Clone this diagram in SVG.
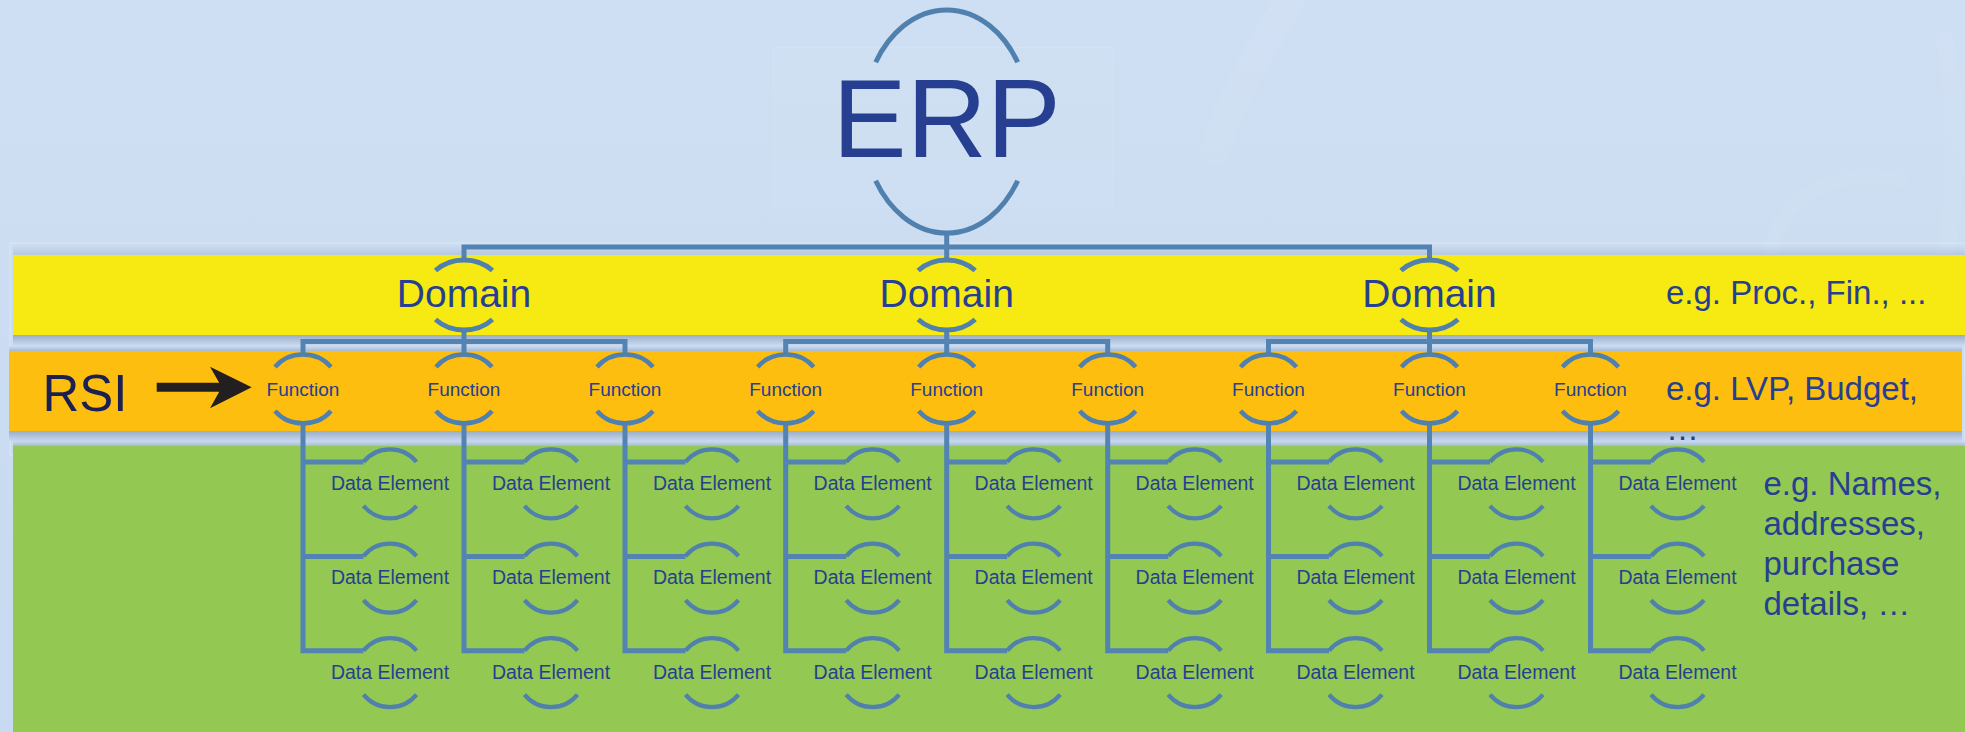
<svg xmlns="http://www.w3.org/2000/svg" width="1965" height="732" viewBox="0 0 1965 732">
<defs>
<linearGradient id="bg" x1="0" y1="0" x2="0" y2="1">
<stop offset="0" stop-color="#cfdff3"/>
<stop offset="1" stop-color="#c7daf1"/>
</linearGradient>
<linearGradient id="shDown" x1="0" y1="0" x2="0" y2="1">
<stop offset="0" stop-color="#8a9db6" stop-opacity="0.75"/>
<stop offset="1" stop-color="#8a9db6" stop-opacity="0"/>
</linearGradient>
<linearGradient id="shUp" x1="0" y1="1" x2="0" y2="0">
<stop offset="0" stop-color="#8a9db6" stop-opacity="0.55"/>
<stop offset="1" stop-color="#8a9db6" stop-opacity="0"/>
</linearGradient>
<style>
text{font-family:"Liberation Sans",Arial,Helvetica,sans-serif;fill:#263f90;text-anchor:middle}
.arc{fill:none;stroke:#4f80ae}
.erp .arc{stroke-width:5}
.dom .arc{stroke-width:5}
.fun .arc{stroke-width:4.5}
.de .arc{stroke-width:4.2}
.dom text{font-size:39px}
.fun text{font-size:19px}
.de text{font-size:19.5px}
.note{font-size:33px;text-anchor:start}
#connectors path{fill:none;stroke:#5283b3;stroke-width:5;stroke-linejoin:miter;stroke-linecap:butt}
</style>
</defs>

<!-- background -->
<rect x="0" y="0" width="1965" height="732" fill="url(#bg)"/>
<g fill="none" stroke="#ffffff" stroke-opacity="0.06" stroke-linecap="round">
<path d="M1290,0 C1260,50 1230,100 1215,150" stroke-width="30"/>
<path d="M1770,255 C1780,190 1840,170 1900,180" stroke-width="14"/>
<path d="M1945,40 C1960,120 1955,200 1945,260" stroke-width="18"/>
</g>
<rect x="773" y="47.5" width="340" height="160.5" fill="#ffffff" fill-opacity="0.04" stroke="#ffffff" stroke-opacity="0.12" stroke-width="1"/>

<!-- bands -->
<g id="bands">
<rect x="10" y="243" width="1955" height="212" fill="none" stroke="#dfe9f6" stroke-width="1" stroke-opacity="0.7"/>
<rect x="13" y="245" width="1952" height="10" fill="url(#shUp)" opacity="0.6"/>
<rect x="13" y="255" width="1952" height="80" fill="#f6ea12"/>
<rect x="13" y="335" width="1952" height="11" fill="url(#shDown)"/>
<rect x="9" y="346" width="1953" height="5" fill="url(#shUp)"/>
<rect x="9" y="351" width="1953" height="80" fill="#fdbe10"/>
<rect x="9" y="431" width="1953" height="11" fill="url(#shDown)"/>
<rect x="13" y="441" width="1952" height="5" fill="url(#shUp)"/>
<rect x="13" y="446" width="1952" height="286" fill="#93c852"/>
</g>

<!-- connectors -->
<g id="connectors">
<path d="M464,260V247H1429.5V260M946.7,233V260"/>
<path d="M303,355V341.5H625V355M464,330V355"/>
<path d="M785.7,355V341.5H1107.7V355M946.7,330V355"/>
<path d="M1268.5,355V341.5H1590.5V355M1429.5,330V355"/>
<path d="M303,423V650.8H363.5M303,462H363.5M303,556.4H363.5"/>
<path d="M464,423V650.8H524.5M464,462H524.5M464,556.4H524.5"/>
<path d="M625,423V650.8H685.5M625,462H685.5M625,556.4H685.5"/>
<path d="M785.7,423V650.8H846.2M785.7,462H846.2M785.7,556.4H846.2"/>
<path d="M946.7,423V650.8H1007.2M946.7,462H1007.2M946.7,556.4H1007.2"/>
<path d="M1107.7,423V650.8H1168.2M1107.7,462H1168.2M1107.7,556.4H1168.2"/>
<path d="M1268.5,423V650.8H1329M1268.5,462H1329M1268.5,556.4H1329"/>
<path d="M1429.5,423V650.8H1490M1429.5,462H1490M1429.5,556.4H1490"/>
<path d="M1590.5,423V650.8H1651M1590.5,462H1651M1590.5,556.4H1651"/>
</g>

<!-- ERP -->
<g id="erp" class="erp" transform="translate(946.7,121.5)">
<path class="arc" d="M-71,-59.3A83.8 111.5 0 0 1 71,-59.3M-71,59.3A83.8 111.5 0 0 0 71,59.3"/>
<text x="0" y="35.2" font-size="111">ERP</text>
</g>

<!-- Domains -->
<g id="domain-1" class="dom" transform="translate(464,295)">
<path class="arc" d="M-28.5,-24.5A39.9 35 0 0 1 28.5,-24.5M-28.5,24.5A39.9 35 0 0 0 28.5,24.5"/>
<text x="0" y="11.7">Domain</text>
</g>
<g id="domain-2" class="dom" transform="translate(946.7,295)">
<path class="arc" d="M-28.5,-24.5A39.9 35 0 0 1 28.5,-24.5M-28.5,24.5A39.9 35 0 0 0 28.5,24.5"/>
<text x="0" y="11.7">Domain</text>
</g>
<g id="domain-3" class="dom" transform="translate(1429.5,295)">
<path class="arc" d="M-28.5,-24.5A39.9 35 0 0 1 28.5,-24.5M-28.5,24.5A39.9 35 0 0 0 28.5,24.5"/>
<text x="0" y="11.7">Domain</text>
</g>

<!-- Functions -->
<g id="function-1" class="fun" transform="translate(303,388.9)"><path class="arc" d="M-28,-22A36.4 34.4 0 0 1 28,-22M-28,22A36.4 34.4 0 0 0 28,22"/><text x="0" y="7">Function</text></g>
<g id="function-2" class="fun" transform="translate(464,388.9)"><path class="arc" d="M-28,-22A36.4 34.4 0 0 1 28,-22M-28,22A36.4 34.4 0 0 0 28,22"/><text x="0" y="7">Function</text></g>
<g id="function-3" class="fun" transform="translate(625,388.9)"><path class="arc" d="M-28,-22A36.4 34.4 0 0 1 28,-22M-28,22A36.4 34.4 0 0 0 28,22"/><text x="0" y="7">Function</text></g>
<g id="function-4" class="fun" transform="translate(785.7,388.9)"><path class="arc" d="M-28,-22A36.4 34.4 0 0 1 28,-22M-28,22A36.4 34.4 0 0 0 28,22"/><text x="0" y="7">Function</text></g>
<g id="function-5" class="fun" transform="translate(946.7,388.9)"><path class="arc" d="M-28,-22A36.4 34.4 0 0 1 28,-22M-28,22A36.4 34.4 0 0 0 28,22"/><text x="0" y="7">Function</text></g>
<g id="function-6" class="fun" transform="translate(1107.7,388.9)"><path class="arc" d="M-28,-22A36.4 34.4 0 0 1 28,-22M-28,22A36.4 34.4 0 0 0 28,22"/><text x="0" y="7">Function</text></g>
<g id="function-7" class="fun" transform="translate(1268.5,388.9)"><path class="arc" d="M-28,-22A36.4 34.4 0 0 1 28,-22M-28,22A36.4 34.4 0 0 0 28,22"/><text x="0" y="7">Function</text></g>
<g id="function-8" class="fun" transform="translate(1429.5,388.9)"><path class="arc" d="M-28,-22A36.4 34.4 0 0 1 28,-22M-28,22A36.4 34.4 0 0 0 28,22"/><text x="0" y="7">Function</text></g>
<g id="function-9" class="fun" transform="translate(1590.5,388.9)"><path class="arc" d="M-28,-22A36.4 34.4 0 0 1 28,-22M-28,22A36.4 34.4 0 0 0 28,22"/><text x="0" y="7">Function</text></g>

<!-- Data Elements -->
<g id="de-1-1" class="de" transform="translate(390,483.8)"><path class="arc" d="M-26.5,-22A34.4 34.5 0 0 1 26.5,-22M-26.5,22A34.4 34.5 0 0 0 26.5,22"/><text x="0" y="6.2">Data Element</text></g>
<g id="de-1-2" class="de" transform="translate(390,578.2)"><path class="arc" d="M-26.5,-22A34.4 34.5 0 0 1 26.5,-22M-26.5,22A34.4 34.5 0 0 0 26.5,22"/><text x="0" y="6.2">Data Element</text></g>
<g id="de-1-3" class="de" transform="translate(390,672.6)"><path class="arc" d="M-26.5,-22A34.4 34.5 0 0 1 26.5,-22M-26.5,22A34.4 34.5 0 0 0 26.5,22"/><text x="0" y="6.2">Data Element</text></g>
<g id="de-2-1" class="de" transform="translate(551,483.8)"><path class="arc" d="M-26.5,-22A34.4 34.5 0 0 1 26.5,-22M-26.5,22A34.4 34.5 0 0 0 26.5,22"/><text x="0" y="6.2">Data Element</text></g>
<g id="de-2-2" class="de" transform="translate(551,578.2)"><path class="arc" d="M-26.5,-22A34.4 34.5 0 0 1 26.5,-22M-26.5,22A34.4 34.5 0 0 0 26.5,22"/><text x="0" y="6.2">Data Element</text></g>
<g id="de-2-3" class="de" transform="translate(551,672.6)"><path class="arc" d="M-26.5,-22A34.4 34.5 0 0 1 26.5,-22M-26.5,22A34.4 34.5 0 0 0 26.5,22"/><text x="0" y="6.2">Data Element</text></g>
<g id="de-3-1" class="de" transform="translate(712,483.8)"><path class="arc" d="M-26.5,-22A34.4 34.5 0 0 1 26.5,-22M-26.5,22A34.4 34.5 0 0 0 26.5,22"/><text x="0" y="6.2">Data Element</text></g>
<g id="de-3-2" class="de" transform="translate(712,578.2)"><path class="arc" d="M-26.5,-22A34.4 34.5 0 0 1 26.5,-22M-26.5,22A34.4 34.5 0 0 0 26.5,22"/><text x="0" y="6.2">Data Element</text></g>
<g id="de-3-3" class="de" transform="translate(712,672.6)"><path class="arc" d="M-26.5,-22A34.4 34.5 0 0 1 26.5,-22M-26.5,22A34.4 34.5 0 0 0 26.5,22"/><text x="0" y="6.2">Data Element</text></g>
<g id="de-4-1" class="de" transform="translate(872.7,483.8)"><path class="arc" d="M-26.5,-22A34.4 34.5 0 0 1 26.5,-22M-26.5,22A34.4 34.5 0 0 0 26.5,22"/><text x="0" y="6.2">Data Element</text></g>
<g id="de-4-2" class="de" transform="translate(872.7,578.2)"><path class="arc" d="M-26.5,-22A34.4 34.5 0 0 1 26.5,-22M-26.5,22A34.4 34.5 0 0 0 26.5,22"/><text x="0" y="6.2">Data Element</text></g>
<g id="de-4-3" class="de" transform="translate(872.7,672.6)"><path class="arc" d="M-26.5,-22A34.4 34.5 0 0 1 26.5,-22M-26.5,22A34.4 34.5 0 0 0 26.5,22"/><text x="0" y="6.2">Data Element</text></g>
<g id="de-5-1" class="de" transform="translate(1033.7,483.8)"><path class="arc" d="M-26.5,-22A34.4 34.5 0 0 1 26.5,-22M-26.5,22A34.4 34.5 0 0 0 26.5,22"/><text x="0" y="6.2">Data Element</text></g>
<g id="de-5-2" class="de" transform="translate(1033.7,578.2)"><path class="arc" d="M-26.5,-22A34.4 34.5 0 0 1 26.5,-22M-26.5,22A34.4 34.5 0 0 0 26.5,22"/><text x="0" y="6.2">Data Element</text></g>
<g id="de-5-3" class="de" transform="translate(1033.7,672.6)"><path class="arc" d="M-26.5,-22A34.4 34.5 0 0 1 26.5,-22M-26.5,22A34.4 34.5 0 0 0 26.5,22"/><text x="0" y="6.2">Data Element</text></g>
<g id="de-6-1" class="de" transform="translate(1194.7,483.8)"><path class="arc" d="M-26.5,-22A34.4 34.5 0 0 1 26.5,-22M-26.5,22A34.4 34.5 0 0 0 26.5,22"/><text x="0" y="6.2">Data Element</text></g>
<g id="de-6-2" class="de" transform="translate(1194.7,578.2)"><path class="arc" d="M-26.5,-22A34.4 34.5 0 0 1 26.5,-22M-26.5,22A34.4 34.5 0 0 0 26.5,22"/><text x="0" y="6.2">Data Element</text></g>
<g id="de-6-3" class="de" transform="translate(1194.7,672.6)"><path class="arc" d="M-26.5,-22A34.4 34.5 0 0 1 26.5,-22M-26.5,22A34.4 34.5 0 0 0 26.5,22"/><text x="0" y="6.2">Data Element</text></g>
<g id="de-7-1" class="de" transform="translate(1355.5,483.8)"><path class="arc" d="M-26.5,-22A34.4 34.5 0 0 1 26.5,-22M-26.5,22A34.4 34.5 0 0 0 26.5,22"/><text x="0" y="6.2">Data Element</text></g>
<g id="de-7-2" class="de" transform="translate(1355.5,578.2)"><path class="arc" d="M-26.5,-22A34.4 34.5 0 0 1 26.5,-22M-26.5,22A34.4 34.5 0 0 0 26.5,22"/><text x="0" y="6.2">Data Element</text></g>
<g id="de-7-3" class="de" transform="translate(1355.5,672.6)"><path class="arc" d="M-26.5,-22A34.4 34.5 0 0 1 26.5,-22M-26.5,22A34.4 34.5 0 0 0 26.5,22"/><text x="0" y="6.2">Data Element</text></g>
<g id="de-8-1" class="de" transform="translate(1516.5,483.8)"><path class="arc" d="M-26.5,-22A34.4 34.5 0 0 1 26.5,-22M-26.5,22A34.4 34.5 0 0 0 26.5,22"/><text x="0" y="6.2">Data Element</text></g>
<g id="de-8-2" class="de" transform="translate(1516.5,578.2)"><path class="arc" d="M-26.5,-22A34.4 34.5 0 0 1 26.5,-22M-26.5,22A34.4 34.5 0 0 0 26.5,22"/><text x="0" y="6.2">Data Element</text></g>
<g id="de-8-3" class="de" transform="translate(1516.5,672.6)"><path class="arc" d="M-26.5,-22A34.4 34.5 0 0 1 26.5,-22M-26.5,22A34.4 34.5 0 0 0 26.5,22"/><text x="0" y="6.2">Data Element</text></g>
<g id="de-9-1" class="de" transform="translate(1677.5,483.8)"><path class="arc" d="M-26.5,-22A34.4 34.5 0 0 1 26.5,-22M-26.5,22A34.4 34.5 0 0 0 26.5,22"/><text x="0" y="6.2">Data Element</text></g>
<g id="de-9-2" class="de" transform="translate(1677.5,578.2)"><path class="arc" d="M-26.5,-22A34.4 34.5 0 0 1 26.5,-22M-26.5,22A34.4 34.5 0 0 0 26.5,22"/><text x="0" y="6.2">Data Element</text></g>
<g id="de-9-3" class="de" transform="translate(1677.5,672.6)"><path class="arc" d="M-26.5,-22A34.4 34.5 0 0 1 26.5,-22M-26.5,22A34.4 34.5 0 0 0 26.5,22"/><text x="0" y="6.2">Data Element</text></g>

<!-- RSI label and arrow -->
<g id="rsi">
<text x="85" y="410.7" font-size="51" style="fill:#1b2050">RSI</text>
<path d="M156.7,382.7H219.2L210,366.7L251.7,387.2L210,408.3L219.2,391.7H156.7Z" fill="#231f20"/>
</g>

<!-- example notes -->
<g id="notes">
<text class="note" x="1666" y="304">e.g. Proc., Fin., ...</text>
<text class="note" x="1666" y="400">e.g. LVP, Budget,</text>
<text class="note" x="1666" y="440">…</text>
<text class="note" x="1763.5" y="495">e.g. Names,</text>
<text class="note" x="1763.5" y="535">addresses,</text>
<text class="note" x="1763.5" y="575">purchase</text>
<text class="note" x="1763.5" y="615">details, …</text>
</g>
</svg>
